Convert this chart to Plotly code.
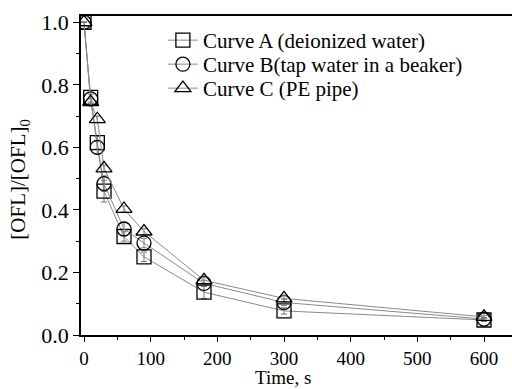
import plotly.graph_objects as go

time_s = [0, 10, 20, 30, 60, 90, 180, 300, 600]
curve_a = [1.0, 0.76, 0.615, 0.46, 0.315, 0.25, 0.137, 0.077, 0.048]
curve_b = [1.0, 0.755, 0.60, 0.484, 0.339, 0.294, 0.165, 0.104, 0.051]
curve_c = [1.0, 0.745, 0.69, 0.533, 0.403, 0.331, 0.175, 0.117, 0.058]
err_a = [0.0, 0.015, 0.02, 0.035, 0.015, 0.015, 0.02, 0.01, 0.005]
err_b = [0.0, 0.015, 0.02, 0.025, 0.02, 0.015, 0.01, 0.01, 0.005]
err_c = [0.0, 0.01, 0.01, 0.01, 0.01, 0.01, 0.01, 0.01, 0.005]
names = ["Curve A (deionized water)", "Curve B(tap water in a beaker)", "Curve C (PE pipe)"]
symbols = ["square-open", "circle-open", "triangle-up-open"]
legend_ids = ["legend", "legend2", "legend3"]

font = "Liberation Serif, Times New Roman, serif"

top_m, bot_m = 16, 54
plot_h = 389 - top_m - bot_m
legend_row_px = [20, 44, 68]  # top of each legend row box, from top of page
legend_y = [(389 - bot_m - r) / plot_h for r in legend_row_px]

fig = go.Figure()
for ys, es, nm, sym, lg in zip([curve_a, curve_b, curve_c], [err_a, err_b, err_c], names, symbols, legend_ids):
    fig.add_trace(go.Scatter(
        x=time_s, y=ys, name=nm, mode="lines+markers", legend=lg,
        line=dict(color="#8a8a8a", width=1),
        marker=dict(symbol=sym, size=14, color="black", line=dict(color="black", width=1.3)),
        error_y=dict(type="data", array=es, color="#777", thickness=1, width=3),
    ))

legends = {}
for lg, ly in zip(legend_ids, legend_y):
    legends[lg] = dict(x=0.19, y=ly, xanchor="left", yanchor="top",
                       bgcolor="rgba(0,0,0,0)", font=dict(size=21, family=font),
                       itemwidth=30)

fig.update_layout(
    width=512, height=389,
    margin=dict(l=81, r=0, t=top_m, b=bot_m),
    paper_bgcolor="white", plot_bgcolor="white",
    font=dict(family=font, size=21, color="black"),
    showlegend=True,
    xaxis=dict(range=[-4.5, 642], tickvals=[0, 100, 200, 300, 400, 500, 600],
               showline=True, linecolor="black", linewidth=1.5, mirror=True,
               ticks="outside", ticklen=5, tickwidth=1.2, tickcolor="black",
               minor=dict(dtick=50, ticks="outside", ticklen=3, tickwidth=1.2, tickcolor="black"),
               showgrid=False, zeroline=False,
               tickfont=dict(size=19)),
    yaxis=dict(range=[0, 1.02], tickvals=[0, 0.2, 0.4, 0.6, 0.8, 1.0], tickformat=".1f",
               showline=True, linecolor="black", linewidth=1.5,
               ticks="outside", ticklen=6, tickwidth=1.2, tickcolor="black",
               minor=dict(dtick=0.1, ticks="outside", ticklen=3, tickwidth=1.2, tickcolor="black"),
               showgrid=False, zeroline=False,
               tickfont=dict(size=22)),
    annotations=[
        dict(text="Time, s", xref="paper", yref="paper", x=0.469, y=-bot_m / plot_h,
             xanchor="center", yanchor="bottom", borderpad=0,
             showarrow=False, font=dict(size=19)),
        dict(text="[OFL]/[OFL]<sub>0</sub>", xref="paper", yref="paper", x=-0.144, y=0.49,
             xanchor="center", yanchor="middle", textangle=-90, showarrow=False,
             font=dict(size=21)),
    ],
    **legends,
)
fig.write_html("out.html")
